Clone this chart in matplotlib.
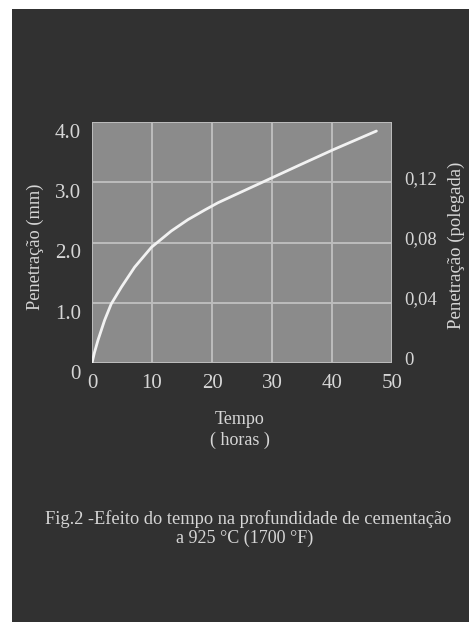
import matplotlib
matplotlib.use("Agg")
import matplotlib.pyplot as plt
from matplotlib.patches import Rectangle
import matplotlib.transforms as mtransforms

# Data
tempo_h = [0, 0.4, 1.0, 2.1, 3.2, 4.9, 7.1, 9.9, 13.2, 16.0, 18.8, 21.0, 23.6, 29.7, 34.7, 40.2, 47.4]
penetracao_mm = [0, 0.17, 0.38, 0.71, 0.98, 1.26, 1.59, 1.92, 2.19, 2.38, 2.54, 2.66, 2.78, 3.06, 3.29, 3.54, 3.85]
x_ticks = [0, 10, 20, 30, 40, 50]
y_ticks_mm = [0, 1, 2, 3, 4]
y_tick_labels_mm = ["0", "1.0", "2.0", "3.0", "4.0"]
y_ticks_in = [0, 0.04, 0.08, 0.12]
y_tick_labels_in = ["0", "0,04", "0,08", "0,12"]

W, H = 469, 622
fig = plt.figure(figsize=(W / 100, H / 100), dpi=100, facecolor="white")
plt.rcParams["font.family"] = ["Liberation Serif", "DejaVu Serif"]

dark = "#313131"
txt = "#d6d6d6"
fig.patches.append(Rectangle((12 / W, 0), 1 - 12 / W, 1 - 9 / H, transform=fig.transFigure,
                             facecolor=dark, edgecolor="none", zorder=-10))

# axes: x 92..392, y 122..363 (pixels from top)
ax = fig.add_axes([92 / W, 1 - 363 / H, 300 / W, 241 / H])
ax.set_zorder(1)
ax.set_facecolor("#8b8b8b")
ax.set_xlim(0, 50)
ax.set_ylim(0, 4)
for s in ax.spines.values():
    s.set_visible(False)
ax.set_xticks(x_ticks)
ax.set_yticks(y_ticks_mm)
ax.set_yticklabels(y_tick_labels_mm)
ax.grid(True, color="#bdbdbd", linewidth=1.4)
ax.set_axisbelow(True)
ax.tick_params(length=0, colors=txt, labelsize=15, pad=8)
# shift left labels down a bit
off = mtransforms.ScaledTranslation(0, -9 / 100, fig.dpi_scale_trans)
for lab in ax.get_yticklabels():
    lab.set_transform(lab.get_transform() + off)

ax.plot(tempo_h, penetracao_mm, color="#f2f2f2", linewidth=2.0,
        solid_capstyle="round", solid_joinstyle="round")

ax2 = ax.twinx()
ax2.set_ylim(0, 0.16)
for s in ax2.spines.values():
    s.set_visible(False)
ax2.set_yticks(y_ticks_in)
ax2.set_yticklabels(y_tick_labels_in)
ax2.tick_params(length=0, colors=txt, labelsize=13.5, pad=9)
off2 = mtransforms.ScaledTranslation(0, 5 / 100, fig.dpi_scale_trans)
for lab in ax2.get_yticklabels():
    lab.set_transform(lab.get_transform() + off2)

fig.text(35 / W, 1 - 247 / H, "Penetração (mm)", rotation=90, ha="center", va="center",
         color=txt, fontsize=13.2)
fig.text(456 / W, 1 - 245 / H, "Penetração (polegada)", rotation=90, ha="center", va="center",
         color=txt, fontsize=13.5)
fig.text(240 / W, 1 - 420 / H, "Tempo", ha="center", va="center", color=txt, fontsize=13)
fig.text(240 / W, 1 - 440 / H, "( horas )", ha="center", va="center", color=txt, fontsize=13)
fig.text(248 / W, 1 - 519 / H, "Fig.2 -Efeito do tempo na profundidade de cementação",
         ha="center", va="center", color=txt, fontsize=13.2)
fig.text(245 / W, 1 - 538 / H, "a 925 °C (1700 °F)", ha="center", va="center",
         color=txt, fontsize=13)

fig.savefig("out.png", dpi=100, facecolor="white")
